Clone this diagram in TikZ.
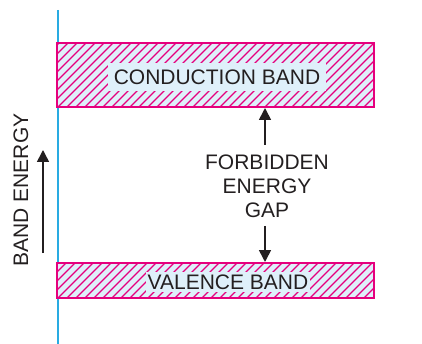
\documentclass[tikz,border=0pt]{standalone}
\usepackage{fontspec}
\setmainfont{Liberation Sans}
\usetikzlibrary{arrows.meta}
\definecolor{mag}{HTML}{E5007D}
\definecolor{lblue}{HTML}{DFF0FA}
\definecolor{axisblue}{HTML}{29ABE2}
\definecolor{ink}{HTML}{231F20}
\tikzset{
  band/.style={draw=mag, line width=2pt, fill=lblue, inner sep=0pt,
    path picture={\foreach \k in {0,...,46}{
      \draw[mag, line width=1.3pt]
        ([xshift=\k*9pt-80pt]path picture bounding box.south west) -- ++(80pt,80pt);}}},
  lbl/.style={fill=lblue, text=ink, inner xsep=6pt, inner ysep=7pt,
    font=\fontsize{21}{24}\selectfont},
  plain/.style={text=ink, font=\fontsize{21}{24}\selectfont, align=center, inner sep=0pt},
  arr/.style={draw=ink, line width=1.6pt, -{Triangle[length=12pt,width=12pt]}},
}
\begin{document}
\begin{tikzpicture}[x=1pt,y=-1pt]
\useasboundingbox (0,0) rectangle (422,344);
\coordinate (atop) at (58,10);
\coordinate (abot) at (58,344);
\draw[axisblue, line width=1.8pt] (atop) -- (abot);
\node[band, minimum width=317pt, minimum height=64pt] (cb) at (215.5,75) {};
\node[band, minimum width=317pt, minimum height=35pt] (vb) at (215.5,280.5) {};
\node[lbl] (cbt) at (217,77) {CONDUCTION BAND};
\node[lbl, inner xsep=2pt, inner ysep=2.5pt] (vbt) at (228,282) {VALENCE BAND};
\node[plain] (gap) at (267,186) {FORBIDDEN\\ENERGY\\GAP};
\coordinate (ua) at (265,145);
\coordinate (da) at (265,226);
\draw[arr] (ua) -- (ua |- cb.south);
\draw[arr] (da) -- (da |- vb.north);
\node[plain, rotate=90] (be) at (21,190) {BAND ENERGY};
\coordinate (b0) at (43,253);
\coordinate (b1) at (43,150);
\draw[arr] (b0) -- (b1);
\end{tikzpicture}
\end{document}
